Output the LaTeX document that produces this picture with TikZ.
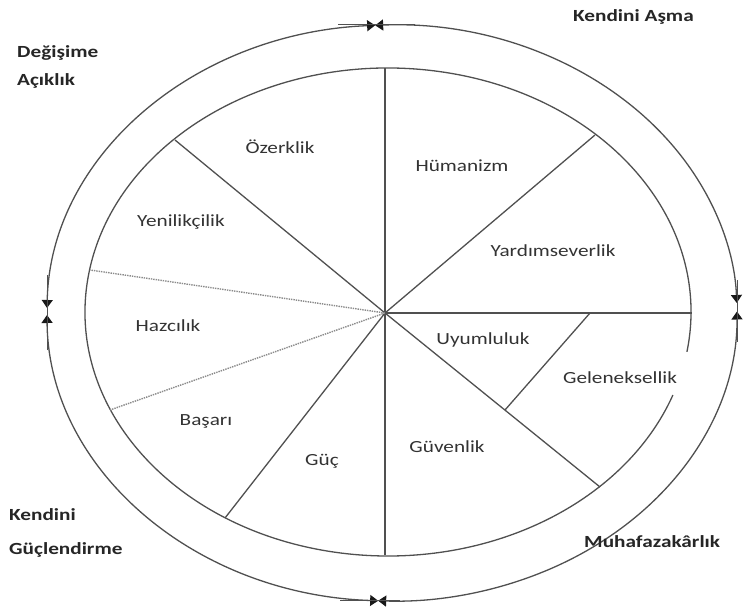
\documentclass[tikz,border=0pt]{standalone}
\usepackage{fontspec}
\setmainfont{Carlito}[FakeStretch=1.25]
\usetikzlibrary{arrows.meta}
\definecolor{linec}{HTML}{505050}
\definecolor{dotc}{HTML}{8A8A8A}
\definecolor{txtc}{HTML}{333333}
\definecolor{boldc}{HTML}{262626}
\begin{document}
\begin{tikzpicture}[x=1pt,y=1pt,
  ln/.style={draw=linec, line width=1.3pt},
  dln/.style={draw=dotc, line width=1.4pt, densely dotted},
  lbl/.style={text=txtc, font=\fontsize{17}{20}\selectfont, inner sep=0pt},
  grp/.style={text=boldc, font=\fontsize{17}{20}\selectfont\bfseries, inner sep=0pt, anchor=west},
  tip/.tip={Triangle[length=8pt,width=11pt,color=black!90]},
  arr/.style={draw=linec, line width=1.3pt, tip-tip}
]
\useasboundingbox (0,0) rectangle (747,-607);
\coordinate (H) at (385,-313);
\coordinate (C) at (388,-312);
\coordinate (O) at (392,-313);
% inner ellipse (gap behind Geleneksellik)
\draw[ln] (C) ++(-9.4:303 and 244) arc[start angle=-9.4, end angle=340.1, x radius=303, y radius=244];
% outer arcs with arrows
\draw[arr] (O) ++(179.0:345 and 288) arc[start angle=179.0, end angle=92.8, x radius=345, y radius=288];
\draw[arr] (O) ++(92.8:345 and 288) arc[start angle=92.8, end angle=2.0, x radius=345, y radius=288];
\draw[arr] (O) ++(0.3:345 and 288) arc[start angle=0.3, end angle=-92.3, x radius=345, y radius=288];
\draw[arr] (O) ++(-92.3:345 and 288) arc[start angle=-92.3, end angle=-179.6, x radius=345, y radius=288];
% short straight strokes along the outer ring at the arrow points
\coordinate (t1) at (338,-25); \coordinate (t2) at (415,-25);
\coordinate (b1) at (340,-600); \coordinate (b2) at (400,-600);
\coordinate (l1) at (47,-275); \coordinate (l2) at (47,-350);
\coordinate (r1) at (737,-280); \coordinate (r2) at (737,-342);
\draw[ln, line width=1pt] (t1) -- (t2);
\draw[ln, line width=1pt] (b1) -- (b2);
\draw[ln, line width=1pt] (l1) -- (l2);
\draw[ln, line width=1pt] (r1) -- (r2);
% spoke ends
\coordinate (eT) at (385,-68);
\coordinate (eB) at (385,-555);
\coordinate (eR) at (692,-313);
\coordinate (eUL) at (175,-140);
\coordinate (eUR) at (595,-135);
\coordinate (eL) at (90,-270);
\coordinate (eLL) at (110,-410);
\coordinate (eBL) at (225,-518);
\coordinate (eBR) at (600,-487);
\coordinate (g1) at (590,-313);
\coordinate (g2) at (505,-410);
\draw[ln] (H) -- (eT);
\draw[ln] (H) -- (eB);
\draw[ln] (H) -- (eR);
\draw[ln] (H) -- (eUL);
\draw[ln] (H) -- (eUR);
\draw[ln] (H) -- (eBL);
\draw[ln] (H) -- (eBR);
\draw[ln] (g1) -- (g2);
\draw[dln] (H) -- (eL);
\draw[dln] (H) -- (eLL);
% value labels
\node[lbl] (ozer) at (280,-147) {Özerklik};
\node[lbl] (yeni) at (181,-222) {Yenilikçilik};
\node[lbl] (hazc) at (168,-326) {Hazcılık};
\node[lbl] (basa) at (206,-421) {Başarı};
\node[lbl] (guc) at (322,-461) {Güç};
\node[lbl] (guve) at (447,-447) {Güvenlik};
\node[lbl] (uyum) at (483,-340) {Uyumluluk};
\node[lbl] (gele) at (620,-378) {Geleneksellik};
\node[lbl] (huma) at (462,-166) {Hümanizm};
\node[lbl] (yard) at (553,-251) {Yardımseverlik};
% group labels
\node[grp] (deg1) at (17,-53) {Değişime};
\node[grp] (deg2) at (17,-81) {Açıklık};
\node[grp] (kend) at (573,-17) {Kendini Aşma};
\node[grp] (guc1) at (9,-515) {Kendini};
\node[grp] (guc2) at (9,-550) {Güçlendirme};
\node[grp] (muha) at (584,-542) {Muhafazakârlık};
\end{tikzpicture}
\end{document}
